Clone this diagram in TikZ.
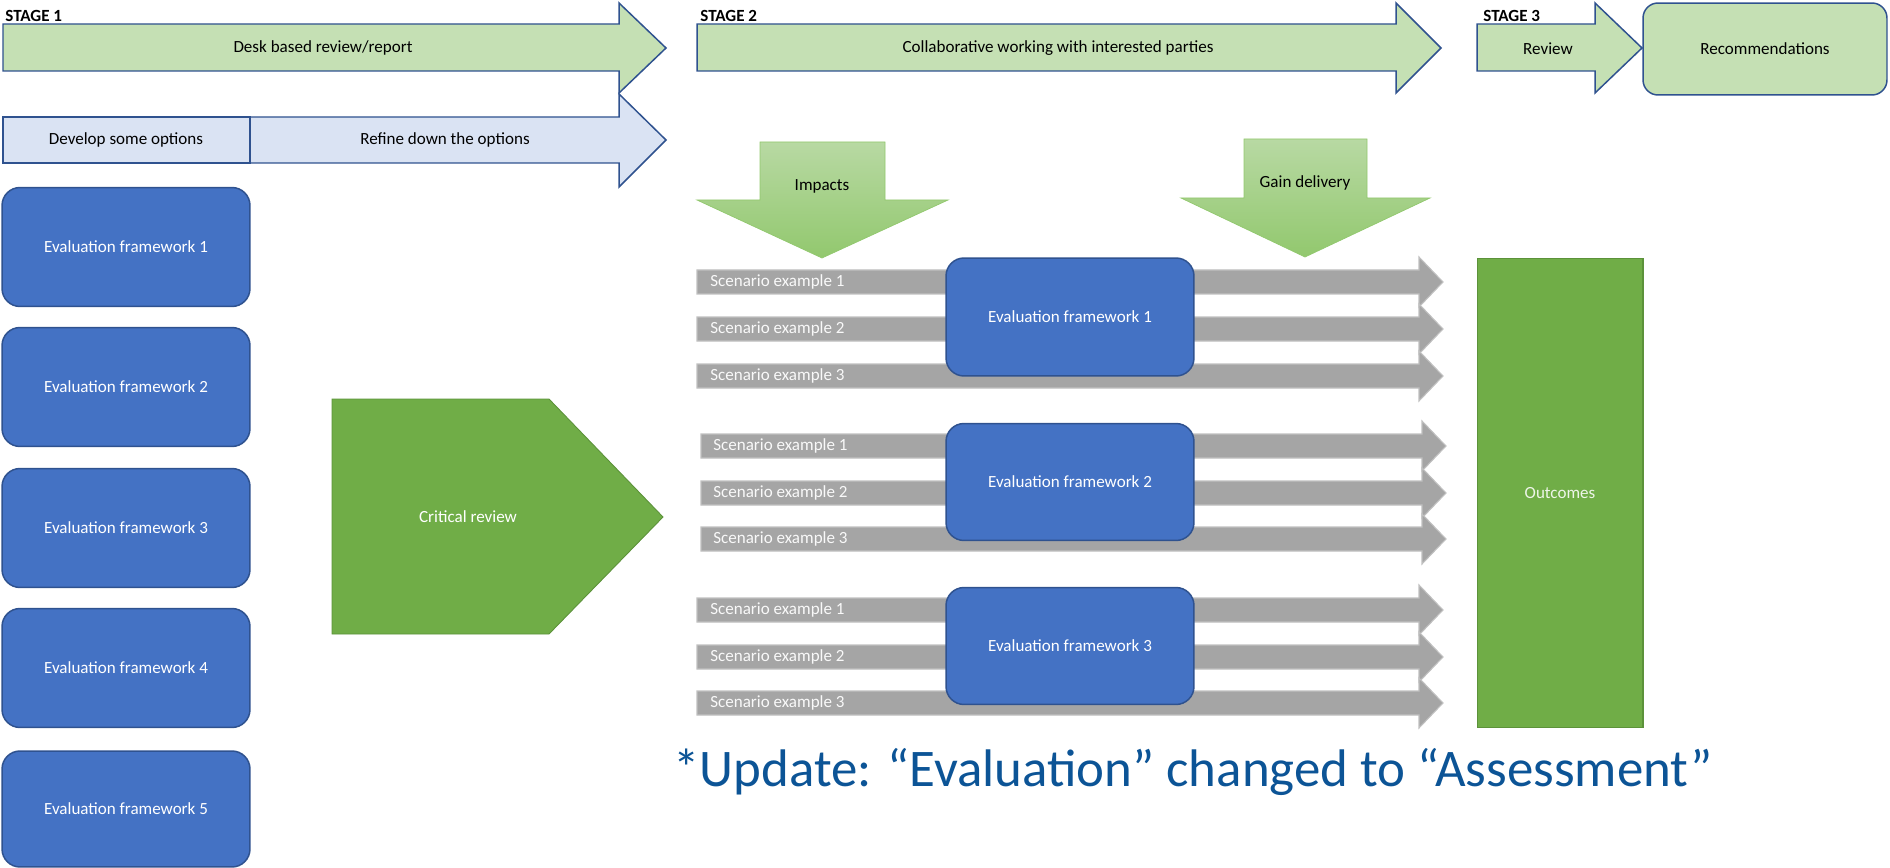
\documentclass[tikz,border=0pt]{standalone}
\usepackage{fontspec}
\setmainfont{Carlito}
\usepackage{tikz}
\usetikzlibrary{positioning}
\usepackage{xcolor}
\definecolor{stagegreen}{RGB}{197, 224, 180}
\definecolor{stageblue}{RGB}{218, 227, 243}
\definecolor{edgeblue}{RGB}{47, 82, 143}
\definecolor{frameblue}{RGB}{68, 114, 196}
\definecolor{reviewgreen}{RGB}{112, 173, 71}
\definecolor{edgegreen}{RGB}{92, 146, 58}
\definecolor{scengray}{RGB}{165, 165, 165}
\definecolor{scenedge}{RGB}{192, 192, 192}
\definecolor{dropgreentop}{RGB}{184, 217, 163}
\definecolor{dropgreenbot}{RGB}{146, 200, 110}
\definecolor{noteblue}{RGB}{12, 84, 150}
\tikzstyle{txt} = [font=\fontsize{9.7}{11.6}\selectfont, inner sep=0pt]
\tikzstyle{stagelabel} = [font=\fontsize{9.7}{11.6}\selectfont\bfseries, inner sep=0pt, anchor=base west]
\tikzstyle{stagearrow} = [draw=edgeblue, line width=0.85pt, fill=stagegreen, line join=miter]
\tikzstyle{optionarrow} = [draw=edgeblue, line width=0.85pt, fill=stageblue, line join=miter]
\tikzstyle{framebox} = [draw=edgeblue, line width=0.85pt, fill=frameblue, rounded corners=0.36cm, txt, text=white, minimum width=4.96cm]
\tikzstyle{scenarrow} = [draw=scenedge, line width=0.6pt, fill=scengray, line join=miter]
\tikzstyle{scentext} = [txt, text=white!95!gray, anchor=west]
\tikzstyle{droparrow} = [top color=dropgreentop, bottom color=dropgreenbot, draw=dropgreenbot, line width=0.4pt]

\begin{document}
\begin{tikzpicture}[x=0.02cm, y=-0.02cm]
\useasboundingbox (0,0) rectangle (1890,868);

% Stage 1
\node[stagelabel] (st1) at (5,22) {STAGE 1};
\draw[stagearrow] (3,24) -- (619,24) -- (619,3) -- (666,48) -- (619,93) -- (619,71) -- (3,71) -- cycle;
\node[txt] (desk) at (323,48) {Desk based review/report};

\draw[optionarrow] (250,117) -- (619,117) -- (619,94) -- (666,140) -- (619,187) -- (619,163) -- (250,163) -- cycle;
\draw[optionarrow] (3,117) rectangle (250,163);
\node[txt] (develop) at (126,140) {Develop some options};
\node[txt] (refine) at (445,140) {Refine down the options};

% Stage 2
\node[stagelabel] (st2) at (700,22) {STAGE 2};
\draw[stagearrow] (697,24) -- (1396,24) -- (1396,3) -- (1441,48) -- (1396,93) -- (1396,71) -- (697,71) -- cycle;
\node[txt] (collab) at (1058,48) {Collaborative working with interested parties};

% Stage 3
\node[stagelabel] (st3) at (1483,22) {STAGE 3};
\draw[stagearrow] (1477,24) -- (1595,24) -- (1595,3) -- (1642,48) -- (1595,93) -- (1595,71) -- (1477,71) -- cycle;
\node[txt] (review) at (1548,49) {Review};
\node[draw=edgeblue, line width=0.85pt, fill=stagegreen, rounded corners=0.3cm, txt, minimum width=4.88cm, minimum height=1.84cm] (recs) at (1765,49) {Recommendations};

% Left column of frameworks
\node[framebox, minimum height=2.38cm] (ef1) at (126,247) {Evaluation framework 1};
\node[framebox, minimum height=2.38cm] (ef2) at (126,387) {Evaluation framework 2};
\node[framebox, minimum height=2.38cm] (ef3) at (126,528) {Evaluation framework 3};
\node[framebox, minimum height=2.38cm] (ef4) at (126,668) {Evaluation framework 4};
\node[framebox, minimum height=2.32cm] (ef5) at (126,809) {Evaluation framework 5};

% Critical review
\draw[fill=reviewgreen, draw=edgegreen, line width=0.5pt] (332,399) -- (549,399) -- (663,517) -- (549,634) -- (332,634) -- cycle;
\node[txt, text=white] (crit) at (468,517) {Critical review};

% Impacts and gain delivery
\shade[droparrow] (760,142) -- (885,142) -- (885,200) -- (948,200) -- (822,258) -- (697,200) -- (760,200) -- cycle;
\node[txt] (impacts) at (822,186) {Impacts};
\shade[droparrow] (1244,139) -- (1367,139) -- (1367,198) -- (1430,198) -- (1305,257) -- (1181,198) -- (1244,198) -- cycle;
\node[txt] (gain) at (1305,183) {Gain delivery};

% Scenarios, group 1
\draw[scenarrow] (697,270) -- (1419,270) -- (1419,257) -- (1443,282) -- (1419,307) -- (1419,294) -- (697,294) -- cycle;
\draw[scenarrow] (697,317) -- (1419,317) -- (1419,304) -- (1443,329) -- (1419,354) -- (1419,341) -- (697,341) -- cycle;
\draw[scenarrow] (697,364) -- (1419,364) -- (1419,351) -- (1443,376) -- (1419,401) -- (1419,388) -- (697,388) -- cycle;
\node[scentext] (sa1) at (710,282) {Scenario example 1};
\node[scentext] (sa2) at (710,329) {Scenario example 2};
\node[scentext] (sa3) at (710,376) {Scenario example 3};
\node[framebox, minimum height=2.36cm] (mf1) at (1070,317) {Evaluation framework 1};

% Scenarios, group 2
\draw[scenarrow] (701,434) -- (1422,434) -- (1422,421) -- (1446,446) -- (1422,471) -- (1422,458) -- (701,458) -- cycle;
\draw[scenarrow] (701,481) -- (1422,481) -- (1422,468) -- (1446,493) -- (1422,518) -- (1422,505) -- (701,505) -- cycle;
\draw[scenarrow] (701,527) -- (1422,527) -- (1422,514) -- (1446,539) -- (1422,564) -- (1422,551) -- (701,551) -- cycle;
\node[scentext] (sb1) at (713,446) {Scenario example 1};
\node[scentext] (sb2) at (713,493) {Scenario example 2};
\node[scentext] (sb3) at (713,539) {Scenario example 3};
\node[framebox, minimum height=2.34cm] (mf2) at (1070,482) {Evaluation framework 2};

% Scenarios, group 3
\draw[scenarrow] (697,598) -- (1419,598) -- (1419,585) -- (1443,610) -- (1419,635) -- (1419,622) -- (697,622) -- cycle;
\draw[scenarrow] (697,645) -- (1419,645) -- (1419,632) -- (1443,657) -- (1419,682) -- (1419,669) -- (697,669) -- cycle;
\draw[scenarrow] (697,691) -- (1419,691) -- (1419,678) -- (1443,703) -- (1419,728) -- (1419,715) -- (697,715) -- cycle;
\node[scentext] (sc1) at (710,610) {Scenario example 1};
\node[scentext] (sc2) at (710,657) {Scenario example 2};
\node[scentext] (sc3) at (710,703) {Scenario example 3};
\node[framebox, minimum height=2.34cm] (mf3) at (1070,646) {Evaluation framework 3};

% Outcomes
\node[fill=reviewgreen, draw=edgegreen, line width=0.6pt, txt, text=white!88!reviewgreen, minimum width=3.32cm, minimum height=9.4cm] (out) at (1560,493) {Outcomes};

% Note
\node[font=\fontsize{30.1}{36}\selectfont, text=noteblue, inner sep=0pt, anchor=base west] (upd) at (673,786) {*Update: “Evaluation” changed to “Assessment”};
\end{tikzpicture}
\end{document}
